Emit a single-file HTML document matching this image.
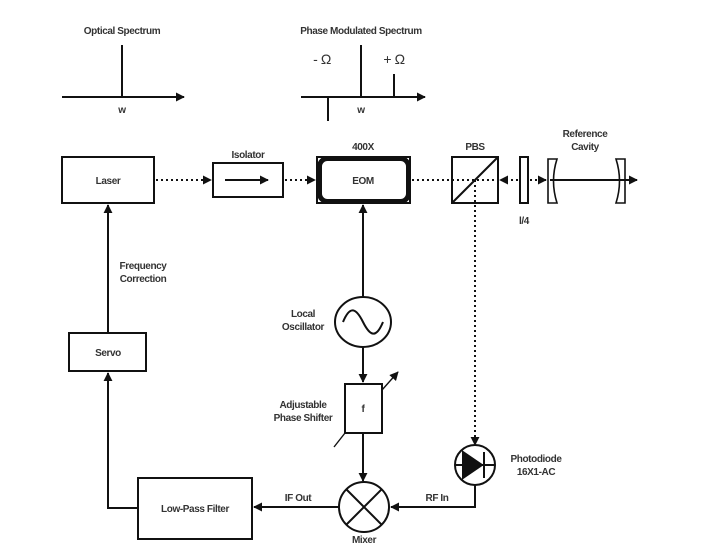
<!DOCTYPE html>
<html><head><meta charset="utf-8"><style>
html,body{margin:0;padding:0;background:#fff;}
svg{display:block;}
text{font-family:"Liberation Sans",sans-serif;font-size:10px;font-weight:bold;fill:#333;text-anchor:middle;letter-spacing:-0.4px;}
</style></head><body>
<svg width="720" height="553" viewBox="0 0 720 553" xmlns="http://www.w3.org/2000/svg">
<defs>
<marker id="a" viewBox="0 0 10 10" refX="9" refY="5" markerWidth="9" markerHeight="9" markerUnits="userSpaceOnUse" orient="auto"><path d="M0,0 L10,5 L0,10 z" fill="#111"/></marker>
</defs>
<g stroke="#111" stroke-width="2" fill="none">
<line x1="62" y1="97" x2="184" y2="97" marker-end="url(#a)"/>
<line x1="122" y1="45" x2="122" y2="97"/>
<line x1="301" y1="97" x2="425" y2="97" marker-end="url(#a)"/>
<line x1="361" y1="45" x2="361" y2="97"/>
<line x1="394" y1="74" x2="394" y2="97"/>
<line x1="328" y1="97" x2="328" y2="121"/>
<rect x="62" y="157" width="92" height="46"/>
<rect x="213" y="163" width="70" height="34"/>
<line x1="225" y1="180" x2="268" y2="180" marker-end="url(#a)"/>
<rect x="319.5" y="158.5" width="89" height="43" rx="8" stroke-width="5"/>
<rect x="317" y="157" width="93" height="46" stroke-width="2"/>
<rect x="452" y="157" width="46" height="46"/>
<line x1="452" y1="203" x2="498" y2="157"/>
<rect x="520" y="157" width="8" height="46"/>
<path d="M548,159 L557,159 Q550,181 557,203 L548,203 z" stroke-width="1.6"/>
<path d="M616,159 L625,159 L625,203 L616,203 Q623,181 616,159 z" stroke-width="1.6"/>
<line x1="550" y1="180" x2="637" y2="180" marker-end="url(#a)"/>
<g stroke-dasharray="2,3">
<line x1="156" y1="180" x2="211" y2="180" marker-end="url(#a)"/>
<line x1="285" y1="180" x2="315" y2="180" marker-end="url(#a)"/>
<line x1="412" y1="180" x2="500" y2="180"/>
<line x1="518" y1="180" x2="500" y2="180" marker-end="url(#a)"/>
<line x1="530" y1="180" x2="546" y2="180" marker-end="url(#a)"/>
<line x1="475" y1="180" x2="475" y2="445" marker-end="url(#a)"/>
</g>
<line x1="108" y1="333" x2="108" y2="205" marker-end="url(#a)"/>
<rect x="69" y="333" width="77" height="38"/>
<polyline points="138,508 108,508 108,373" marker-end="url(#a)"/>
<rect x="138" y="478" width="114" height="61"/>
<line x1="363" y1="297" x2="363" y2="205" marker-end="url(#a)"/>
<ellipse cx="363" cy="322" rx="28" ry="25"/>
<path d="M343,322 C350,305 356,308 363,322 C370,336 376,339 383,322"/>
<line x1="363" y1="347" x2="363" y2="382" marker-end="url(#a)"/>
<rect x="345" y="384" width="37" height="49"/>
<line x1="382" y1="390" x2="398" y2="372" stroke-width="1.4" marker-end="url(#a)"/>
<line x1="345" y1="433" x2="334" y2="447" stroke-width="1.4"/>
<line x1="363" y1="433" x2="363" y2="481" marker-end="url(#a)"/>
<circle cx="364" cy="507" r="25"/>
<line x1="346" y1="489" x2="382" y2="525"/>
<line x1="382" y1="489" x2="346" y2="525"/>
<line x1="339" y1="507" x2="254" y2="507" marker-end="url(#a)"/>
<ellipse cx="475" cy="465" rx="20" ry="20"/>
<line x1="455" y1="465" x2="495" y2="465"/>
<path d="M463,452 L463,478 L482,465 z" fill="#111"/>
<line x1="484" y1="452" x2="484" y2="478"/>
<polyline points="475,485 475,507 391,507" marker-end="url(#a)"/>
</g>
<text x="122" y="34">Optical Spectrum</text>
<text x="361" y="34">Phase Modulated Spectrum</text>
<text x="122" y="113">w</text>
<text x="361" y="113">w</text>
<text x="322" y="64" style="font-size:14px;font-weight:normal">- Ω</text>
<text x="394" y="64" style="font-size:14px;font-weight:normal">+ Ω</text>
<text x="108" y="184">Laser</text>
<text x="248" y="158">Isolator</text>
<text x="363" y="150">400X</text>
<text x="363" y="184">EOM</text>
<text x="475" y="150">PBS</text>
<text x="524" y="224">l/4</text>
<text x="585" y="137">Reference</text>
<text x="585" y="150">Cavity</text>
<text x="143" y="269">Frequency</text>
<text x="143" y="282">Correction</text>
<text x="108" y="356">Servo</text>
<text x="303" y="317">Local</text>
<text x="303" y="330">Oscillator</text>
<text x="303" y="408">Adjustable</text>
<text x="303" y="421">Phase Shifter</text>
<text x="363" y="412">f</text>
<text x="536" y="462">Photodiode</text>
<text x="536" y="475">16X1-AC</text>
<text x="298" y="501">IF Out</text>
<text x="437" y="501">RF In</text>
<text x="195" y="512">Low-Pass Filter</text>
<text x="364" y="543">Mixer</text>
</svg>
</body></html>
